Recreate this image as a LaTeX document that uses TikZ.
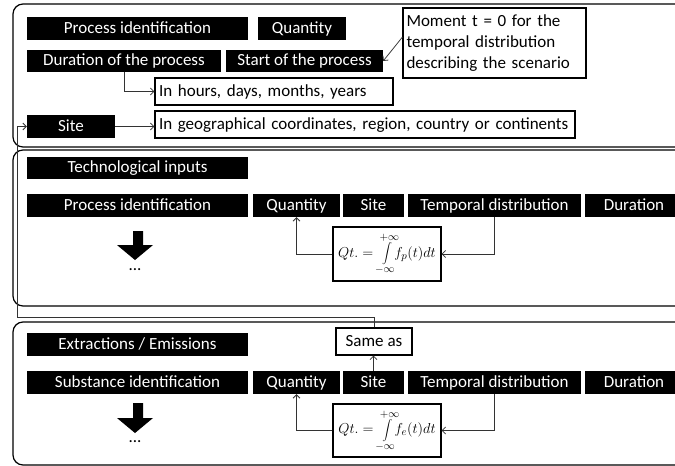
\documentclass[tikz,border=0pt]{standalone}
\usepackage{fontspec}
\setmainfont{Carlito}
\usetikzlibrary{arrows.meta}
\begin{document}
\begin{tikzpicture}[x=1pt,y=-1pt,
  lbl/.style={font=\fontsize{17}{21}\selectfont},
  blk/.style={lbl, fill=black, text=white, inner sep=0pt, minimum height=23pt, text height=12.5pt, text depth=3pt},
  wbox/.style={lbl, draw=black, line width=1.1pt, fill=white, inner sep=0pt},
  fbox/.style={draw=black, line width=1.1pt, fill=white, inner sep=0pt, font=\fontsize{15}{17}\selectfont},
  panel/.style={draw=black, line width=1.2pt, rounded corners=10pt},
  conn/.style={draw=black!80, line width=0.75pt, -{Straight Barb[length=3.5pt,width=7pt]}},
  plain/.style={draw=black!80, line width=0.75pt},
  blockarrow/.style={fill=black}
]
\useasboundingbox (0,0) rectangle (675,466);
\clip (0,0) rectangle (675,466);
\fill[white] (0,0) rectangle (675,466);

% panels
\draw[panel] (13,4) rectangle (700,147);
\draw[panel] (13,150) rectangle (700,306);
\draw[panel] (13,322) rectangle (700,465);

% ---------- panel 1 ----------
\node[blk, minimum width=221pt] (pid1) at (137.5,28.5) {Process identification};
\node[blk, minimum width=88pt] (q1) at (302,28.5) {Quantity};
\node[blk, minimum width=194pt, minimum height=22pt] (dur1) at (124,61) {Duration of the process};
\node[blk, minimum width=157pt, minimum height=22pt] (start1) at (304.5,61) {Start of the process};
\node[wbox, minimum width=183pt, minimum height=70pt, text width=176pt, align=left] (moment) at (494.5,43)
  {Moment t = 0 for the\\temporal distribution\\describing the scenario};
\node[wbox, minimum width=238pt, minimum height=27pt, text width=230pt, align=left, text height=12.5pt, text depth=3pt] (hours) at (274,91.5)
  {In hours, days, months, years};
\node[blk, minimum width=88pt] (site1) at (71,126.5) {Site};
\node[wbox, minimum width=420pt, minimum height=27pt, text width=412pt, align=left, text height=12.5pt, text depth=3pt] (geo) at (365,124.5)
  {In geographical coordinates, region, country or continents};

\draw[conn] (dur1.south) |- (hours.west);
\draw[conn] (site1.east) -- (site1.east -| geo.west);
\draw[conn] ([yshift=6pt]moment.west) -- (start1.east);

% ---------- panel 2 ----------
\node[blk, minimum width=221pt, minimum height=22pt] (tech) at (137.5,168) {Technological inputs};
\node[blk, minimum width=221pt] (pid2) at (137.5,205.5) {Process identification};
\node[blk, minimum width=87pt] (q2) at (296.5,205.5) {Quantity};
\node[blk, minimum width=61pt] (site2) at (373.5,205.5) {Site};
\node[blk, minimum width=173pt] (td2) at (494.5,205.5) {Temporal distribution};
\node[blk, minimum width=98pt] (dur2) at (634,205.5) {Duration};
\node[fbox, minimum width=108pt, minimum height=54pt] (f2) at (387,254)
  {$\displaystyle Qt.=\int\limits_{-\infty}^{+\infty}\!\! f_p(t)dt$};
\fill[blockarrow] (133,231) -- (143,231) -- (143,245) -- (153,245) -- (135,260) -- (117,245) -- (133,245) -- cycle;
\node[lbl, inner sep=0pt] (dots2) at (135,270) {...};
\draw[conn] (f2.west) -| (q2.south);
\draw[conn] (td2.south) |- (f2.east);

% ---------- panel 3 ----------
\node[blk, minimum width=221pt] (ee) at (137.5,344.5) {Extractions / Emissions};
\node[blk, minimum width=221pt] (sid) at (137.5,382.5) {Substance identification};
\node[blk, minimum width=87pt] (q3) at (296.5,382.5) {Quantity};
\node[blk, minimum width=61pt] (site3) at (373.5,382.5) {Site};
\node[blk, minimum width=173pt] (td3) at (494.5,382.5) {Temporal distribution};
\node[blk, minimum width=98pt] (dur3) at (634,382.5) {Duration};
\node[wbox, minimum width=76pt, minimum height=27pt, text height=12.5pt, text depth=3pt] (same) at (374,341.5) {Same as};
\node[fbox, minimum width=108pt, minimum height=53pt] (f3) at (387,430.5)
  {$\displaystyle Qt.=\int\limits_{-\infty}^{+\infty}\!\! f_e(t)dt$};
\fill[blockarrow] (133,403) -- (143,403) -- (143,418) -- (153,418) -- (135,433) -- (117,418) -- (133,418) -- cycle;
\node[lbl, inner sep=0pt] (dots3) at (135,442) {...};
\draw[conn] (f3.west) -| (q3.south);
\draw[conn] (td3.south) |- (f3.east);
\draw[conn] (site3.north) -- (site3.north |- same.south);

\coordinate (c1) at (17,317);
\draw[plain] (same.north) |- (c1);
\draw[conn] (c1) |- (site1.west);
\end{tikzpicture}
\end{document}
